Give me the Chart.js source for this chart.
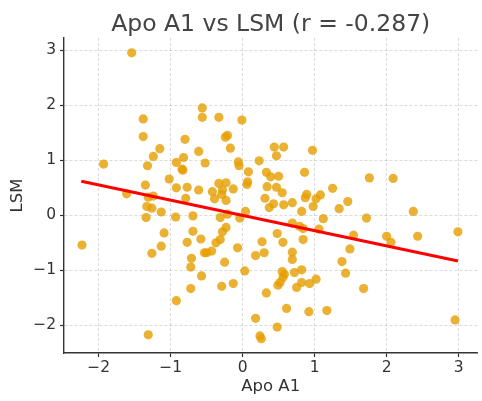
<!DOCTYPE html>
<html>
<head>
<meta charset="utf-8">
<script src="https://cdn.jsdelivr.net/npm/chart.js@4"></script>
<style>
  html, body { margin: 0; padding: 0; background: #fff; }
  canvas { display: block; }
</style>
</head>
<body>
<canvas id="chart" width="482" height="401"></canvas>
<script>
// values
const titleText = 'Apo A1 vs LSM (r = -0.287)';
const xTitle = 'Apo A1';
const yTitle = 'LSM';
const xTicks = [-2, -1, 0, 1, 2, 3];
const yTicks = [-2, -1, 0, 1, 2, 3];

const apoA1 = [
  -1.54, -1.38, -1.38, -0.80, -0.56, -0.56, -0.33, -0.01, -0.21, -0.24,
  -1.15, -0.61, -1.24, -0.82, -1.93, -1.32, -0.92, -0.84, -0.83, -0.52,
  -1.02, -1.35, -0.92, -0.77, -0.61, -1.61, -1.31, -1.24, -0.79, -1.33,
  -1.26, -1.13, -1.34, -0.93, -0.69, -1.09, -0.69, -0.58, -2.23, -1.13,
  -0.77, -1.26, -0.71, -0.72, -0.53, -0.57, -0.72, -0.92, -1.31, -0.17,
  0.44, 0.57, 0.47, 0.97, -0.06, -0.05, 0.23, 0.08, 0.33, 0.39,
  0.50, 0.86, 0.07, 0.06, -0.33, -0.23, -0.42, -0.28, -0.13, 0.34,
  0.47, -0.39, -0.29, -0.23, 0.31, 0.55, 0.89, 0.87, 1.02, 1.08,
  1.25, 0.37, 0.43, 0.57, 0.69, 0.98, 0.82, 1.12, 1.34, 0.04,
  -0.04, -0.31, -0.21, -0.23, -0.28, -0.31, -0.37, 0.69, 0.79, 0.84,
  1.06, 0.48, 0.27, 0.56, 0.84, -0.50, -0.43, -0.07, 0.18, 0.30,
  0.69, 0.69, -0.25, 0.03, 0.55, 0.58, 0.56, 0.72, 0.82, -0.29,
  -0.13, 0.49, 0.52, 0.75, 0.82, 0.93, 1.02, 0.33, 0.61, 0.92,
  1.17, 0.18, 0.48, 0.24, 0.26, 1.38, 1.43, 1.76, 2.09, 1.46,
  1.72, 2.37, 1.54, 2.00, 2.06, 2.43, 2.99, 1.49, 1.68, 2.95
];
const lsm = [
  2.95, 1.75, 1.43, 1.38, 1.95, 1.78, 1.78, 1.73, 1.45, 1.42,
  1.21, 1.16, 1.07, 1.05, 0.93, 0.90, 0.96, 0.84, 0.82, 0.95,
  0.66, 0.55, 0.50, 0.51, 0.46, 0.39, 0.33, 0.35, 0.31, 0.16,
  0.13, 0.06, -0.04, -0.03, -0.01, -0.32, -0.29, -0.43, -0.54, -0.56,
  -0.49, -0.69, -0.78, -0.94, -0.68, -1.10, -1.33, -1.55, -2.17, 1.22,
  1.24, 1.24, 1.08, 1.18, 0.97, 0.90, 0.99, 0.79, 0.78, 0.70,
  0.71, 0.78, 0.61, 0.56, 0.58, 0.59, 0.43, 0.46, 0.48, 0.52,
  0.51, 0.30, 0.38, 0.27, 0.31, 0.41, 0.38, 0.32, 0.30, 0.37,
  0.49, 0.14, 0.21, 0.19, 0.23, 0.16, 0.07, -0.06, 0.12, 0.07,
  -0.05, -0.04, 0.02, -0.22, -0.30, -0.44, -0.50, -0.14, -0.20, -0.24,
  -0.25, -0.33, -0.48, -0.49, -0.44, -0.68, -0.65, -0.59, -0.73, -0.68,
  -0.67, -0.80, -0.85, -1.01, -1.02, -1.07, -1.13, -1.04, -0.99, -1.29,
  -1.24, -1.27, -1.22, -1.31, -1.22, -1.24, -1.16, -1.41, -1.69, -1.75,
  -1.73, -1.87, -2.03, -2.19, -2.24, -0.84, -1.05, 0.68, 0.67, 0.25,
  -0.05, 0.07, -0.36, -0.38, -0.49, -0.38, -0.30, -0.61, -1.33, -1.90
];
// fitted line end points
const fitX = [-2.24, 2.99];
const fitY = [0.62, -0.83];

const points = apoA1.map((x, i) => ({x: x, y: lsm[i]}));
const fitLine = fitX.map((x, i) => ({x: x, y: fitY[i]}));

function fmtTick(v) {
  return v < 0 ? '\u2212' + Math.abs(v) : String(v);
}

// title centred over the plot area
const titlePlugin = {
  id: 'plotTitle',
  afterDraw(chart) {
    const ctx = chart.ctx;
    const area = chart.chartArea;
    ctx.save();
    ctx.font = '23.5px "DejaVu Sans"';
    ctx.fillStyle = '#444';
    ctx.textAlign = 'center';
    ctx.textBaseline = 'alphabetic';
    ctx.fillText(titleText, (area.left + area.right) / 2, 30.5);
    ctx.restore();
  }
};

const tickFont = {family: 'DejaVu Sans', size: 15.5};
const labelFont = {family: 'DejaVu Sans', size: 16.5};

new Chart(document.getElementById('chart'), {
  type: 'scatter',
  data: {
    datasets: [{
      type: 'line',
      data: fitLine,
      borderColor: 'red',
      borderWidth: 3,
      pointRadius: 0,
      fill: false,
      order: 0
    }, {
      data: points,
      backgroundColor: 'rgba(230,158,0,0.8)',
      borderWidth: 0,
      pointRadius: 4.6,
      order: 1
    }]
  },
  options: {
    responsive: false,
    animation: false,
    devicePixelRatio: 1,
    layout: { padding: {top: 38, right: 4, left: 0, bottom: 0} },
    plugins: {
      legend: { display: false },
      title: { display: false },
      tooltip: { enabled: false }
    },
    scales: {
      x: {
        type: 'linear',
        min: -2.48,
        max: 3.26,
        afterBuildTicks: s => { s.ticks = xTicks.map(v => ({value: v})); },
        afterFit: s => { s.height = 48; },
        ticks: { callback: fmtTick, font: tickFont, color: '#333', padding: 2, maxRotation: 0 },
        grid: { color: 'rgba(0,0,0,0.16)', lineWidth: 0.9, tickColor: '#333', tickWidth: 1.2, tickLength: 4 },
        border: { color: '#333', width: 1.4, dash: [3, 2] },
        title: { display: true, text: xTitle, font: labelFont, color: '#333', padding: {top: 0, bottom: 4} }
      },
      y: {
        type: 'linear',
        min: -2.5,
        max: 3.22,
        afterBuildTicks: s => { s.ticks = yTicks.map(v => ({value: v})); },
        afterFit: s => { s.width = 64; },
        ticks: { callback: fmtTick, font: tickFont, color: '#333', padding: 4 },
        grid: { color: 'rgba(0,0,0,0.16)', lineWidth: 0.9, tickColor: '#333', tickWidth: 1.2, tickLength: 4 },
        border: { color: '#333', width: 1.4, dash: [3, 2] },
        title: { display: true, text: yTitle, font: labelFont, color: '#333', padding: {top: 8, bottom: 0} }
      }
    }
  },
  plugins: [titlePlugin]
});
</script>
</body>
</html>
